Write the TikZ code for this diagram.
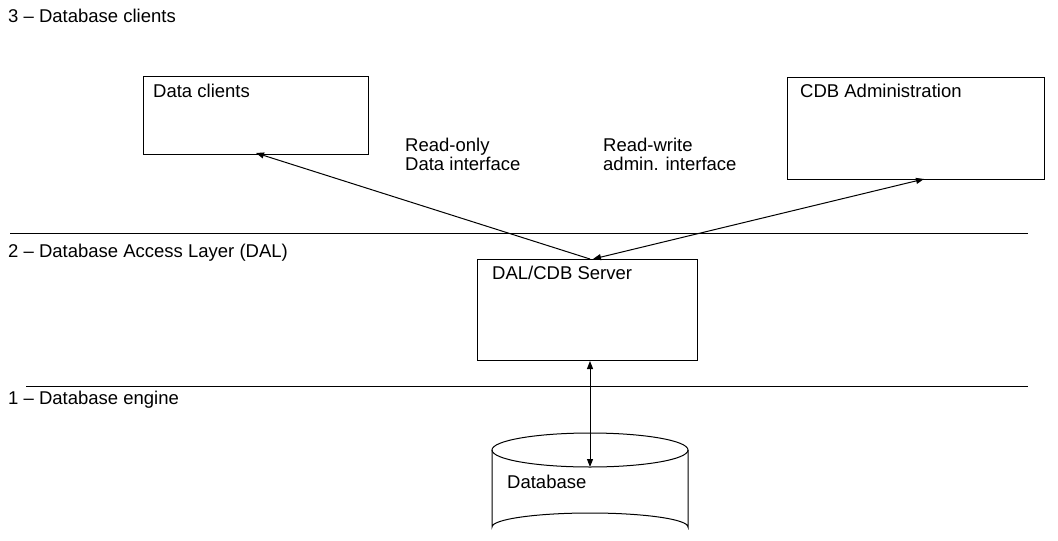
\documentclass[tikz,border=0pt]{standalone}
\usepackage{fontspec}
\setmainfont{Liberation Sans}
\usetikzlibrary{arrows.meta}
\begin{document}
\begin{tikzpicture}[x=1pt,y=-1pt,
  txt/.style={anchor=base west,inner sep=0pt,font=\fontsize{18.5}{20}\selectfont},
  box/.style={draw,line width=1pt,inner sep=0pt,anchor=north west},
  layer/.style={line width=1pt},
  conn/.style={line width=1pt,-{Triangle[length=8pt,width=6pt]}},
  conn2/.style={line width=1pt,{Triangle[length=8pt,width=6pt]}-{Triangle[length=8pt,width=6pt]}}]
\useasboundingbox (0,0) rectangle (1058,541);
\clip (0,0) rectangle (1058,541);
% layer labels
\node[txt] (l3) at (8,22) {3 -- Database clients};
\node[txt] (l2) at (8,257) {2 -- Database Access Layer (DAL)};
\node[txt] (l1) at (8,404) {1 -- Database engine};
% separator lines
\coordinate (s2a) at (10,233);
\coordinate (s2b) at (1028,233);
\coordinate (s1a) at (26,386);
\coordinate (s1b) at (1028,386);
\draw[layer] (s2a) -- (s2b);
\draw[layer] (s1a) -- (s1b);
% boxes
\node[box,minimum width=225pt,minimum height=78pt] (dc) at (143,76) {};
\node[txt] (dct) at (153,97) {Data clients};
\node[box,minimum width=257pt,minimum height=102pt] (cdb) at (787,77) {};
\node[txt] (cdbt) at (800,97) {CDB Administration};
\node[box,minimum width=220pt,minimum height=101pt] (srv) at (477,259) {};
\node[txt] (srvt) at (492,279) {DAL/CDB Server};
% interface labels
\node[txt] (ro) at (405,151) {Read-only};
\node[txt] (ro2) at (405,170) {Data interface};
\node[txt] (rw) at (603,151) {Read-write};
\node[txt] (rw2) at (603,170) {admin. interface};
% database cylinder
\draw[line width=1pt] (492,450) -- (492,527) arc[start angle=180,end angle=360,x radius=98,y radius=14] -- (688,450);
\draw[line width=1pt] (590,450) ellipse[x radius=98,y radius=17];
\coordinate (db) at (590,467);
\node[txt] (dbt) at (507,488) {Database};
% connectors
\coordinate (srvtop1) at (590,259);
\coordinate (srvtop2) at (593,259);
\coordinate (dcend) at (256,153);
\coordinate (cdbend) at (924,179);
\draw[conn] (srvtop1) -- (dcend);
\draw[conn2] (srvtop2) -- (cdbend);
\draw[conn2] (srv.south -| db) -- (db);
\end{tikzpicture}
\end{document}
